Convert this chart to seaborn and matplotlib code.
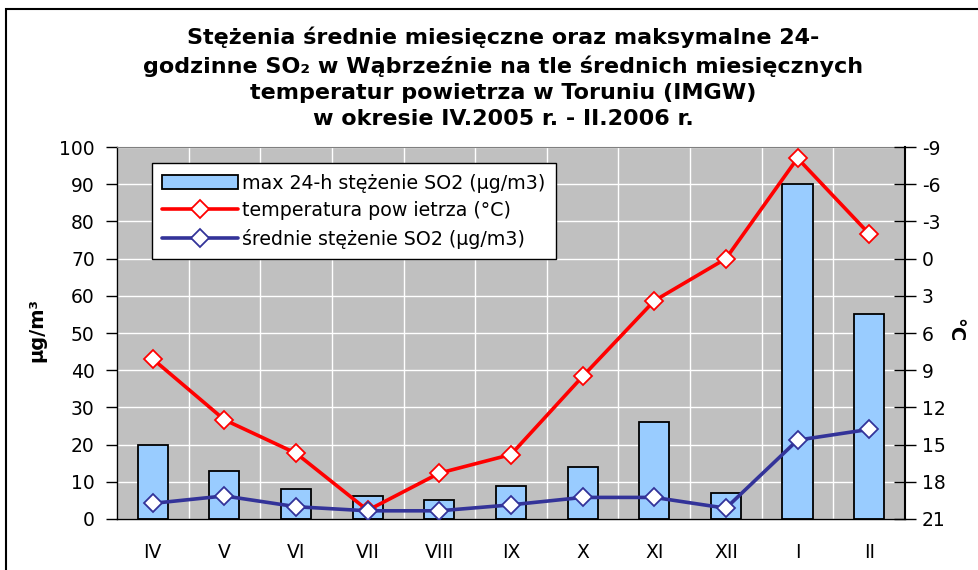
import numpy as np
import seaborn as sns
import matplotlib.pyplot as plt
from matplotlib.patches import Rectangle

# data
months = ["IV", "V", "VI", "VII", "VIII", "IX", "X", "XI", "XII", "I", "II"]
so2_max = [20, 13, 8, 6.2, 5, 9, 14, 26, 7, 90, 55]
so2_mean = [4.2, 6.2, 3.3, 2.2, 2.2, 3.8, 5.8, 5.8, 2.9, 21.2, 24.1]
temperature = [8.1, 13.0, 15.7, 20.3, 17.3, 15.8, 9.5, 3.4, 0.0, -8.1, -2.0]
left_ticks = list(range(0, 101, 10))
right_ticks = list(range(-9, 22, 3))

sns.set_style("white")
plt.rcParams['font.family'] = ['DejaVu Sans']
plt.rcParams['axes.unicode_minus'] = False
for k in ['text.color', 'axes.labelcolor', 'xtick.color', 'ytick.color']:
    plt.rcParams[k] = 'black'

fig, ax = plt.subplots(figsize=(9.79, 5.70), dpi=100)
fig.subplots_adjust(left=0.1195, right=0.9244, bottom=0.0895, top=0.742)

pos = np.arange(len(months))

# bars (left axis)
sns.barplot(x=months, y=so2_max, color="#99CCFF", edgecolor="black", linewidth=1.3,
            width=0.42, saturation=1, ax=ax, label="max 24-h stężenie SO2 (µg/m3)")
ax.set_facecolor("#C0C0C0")
ax.set_xlim(-0.5, 10.5)
ax.set_ylim(0, 100)
ax.set_yticks(left_ticks)
ax.set_xticks(pos)
ax.set_xticks(np.arange(-0.5, 11, 1), minor=True)
ax.tick_params(axis='x', which='major', length=0, pad=17, labelsize=13.5)
ax.tick_params(axis='x', which='minor', length=7, width=1, color='black', direction='out')
ax.tick_params(axis='y', length=8, width=1, color='black', direction='out', pad=8, labelsize=13.5, left=True)
ax.grid(True, which='major', axis='y', color='white', lw=1)
ax.grid(True, which='minor', axis='x', color='white', lw=1)
ax.set_axisbelow(True)
for s in ['left', 'bottom']:
    ax.spines[s].set_color('black')
    ax.spines[s].set_linewidth(1)
ax.spines['top'].set_color('#808080')
ax.spines['right'].set_visible(False)
ax.set_ylabel("µg/m³", fontsize=14, fontweight='bold')
ax.yaxis.set_label_coords(-0.09, 0.508)

# temperature (right axis, inverted)
ax2 = ax.twinx()
sns.lineplot(x=pos, y=temperature, color="red", lw=2.6, marker="D", markersize=9.5,
             markerfacecolor="white", markeredgecolor="red", markeredgewidth=1.3,
             ax=ax2, label="temperatura pow ietrza (°C)")
ax2.set_ylim(21, -9)
ax2.set_yticks(right_ticks)
ax2.tick_params(axis='y', length=16, width=1, color='black', direction='inout', pad=4, labelsize=13.5)
for s in ['left', 'top', 'bottom']:
    ax2.spines[s].set_visible(False)
ax2.spines['right'].set_color('black')
ax2.spines['right'].set_linewidth(1.5)
ax2.set_ylabel("°C", fontsize=14, fontweight='bold', rotation=270, va='center')
ax2.yaxis.set_label_coords(1.063, 0.508)

# mean SO2 (left scale, drawn on top)
ax3 = ax.twinx()
sns.lineplot(x=pos, y=so2_mean, color="#333399", lw=2.6, marker="D", markersize=9.5,
             markerfacecolor="white", markeredgecolor="#333399", markeredgewidth=1.3,
             ax=ax3, label="średnie stężenie SO2 (µg/m3)")
ax3.set_ylim(0, 100)
ax3.axis('off')

for a in (ax, ax2, ax3):
    lg = a.get_legend()
    if lg:
        lg.remove()

h1, l1 = ax.get_legend_handles_labels()
h2, l2 = ax2.get_legend_handles_labels()
h3, l3 = ax3.get_legend_handles_labels()
leg = ax3.legend(h1[:1] + h2 + h3, l1[:1] + l2 + l3, loc='upper left',
                 bbox_to_anchor=(0.044, 0.957), borderaxespad=0, fontsize=13.7,
                 fancybox=False, framealpha=1, edgecolor='black', handlelength=4.0,
                 handletextpad=0.2, labelspacing=0.45, borderpad=0.55)
leg.get_frame().set_linewidth(1)

title = ("Stężenia średnie miesięczne oraz maksymalne 24-\n"
         "godzinne SO₂ w Wąbrzeźnie na tle średnich miesięcznych\n"
         "temperatur powietrza w Toruniu (IMGW)\n"
         "w okresie IV.2005 r. - II.2006 r.")
fig.text(0.514, 1 - 27 / 570, title, ha='center', va='top', fontsize=16,
         fontweight='bold', linespacing=1.38)

fig.add_artist(Rectangle((0.006, -0.1), 1.2, 1.084, transform=fig.transFigure,
                         fill=False, lw=1.5, edgecolor='black'))

fig.savefig("out.png", dpi=100)
